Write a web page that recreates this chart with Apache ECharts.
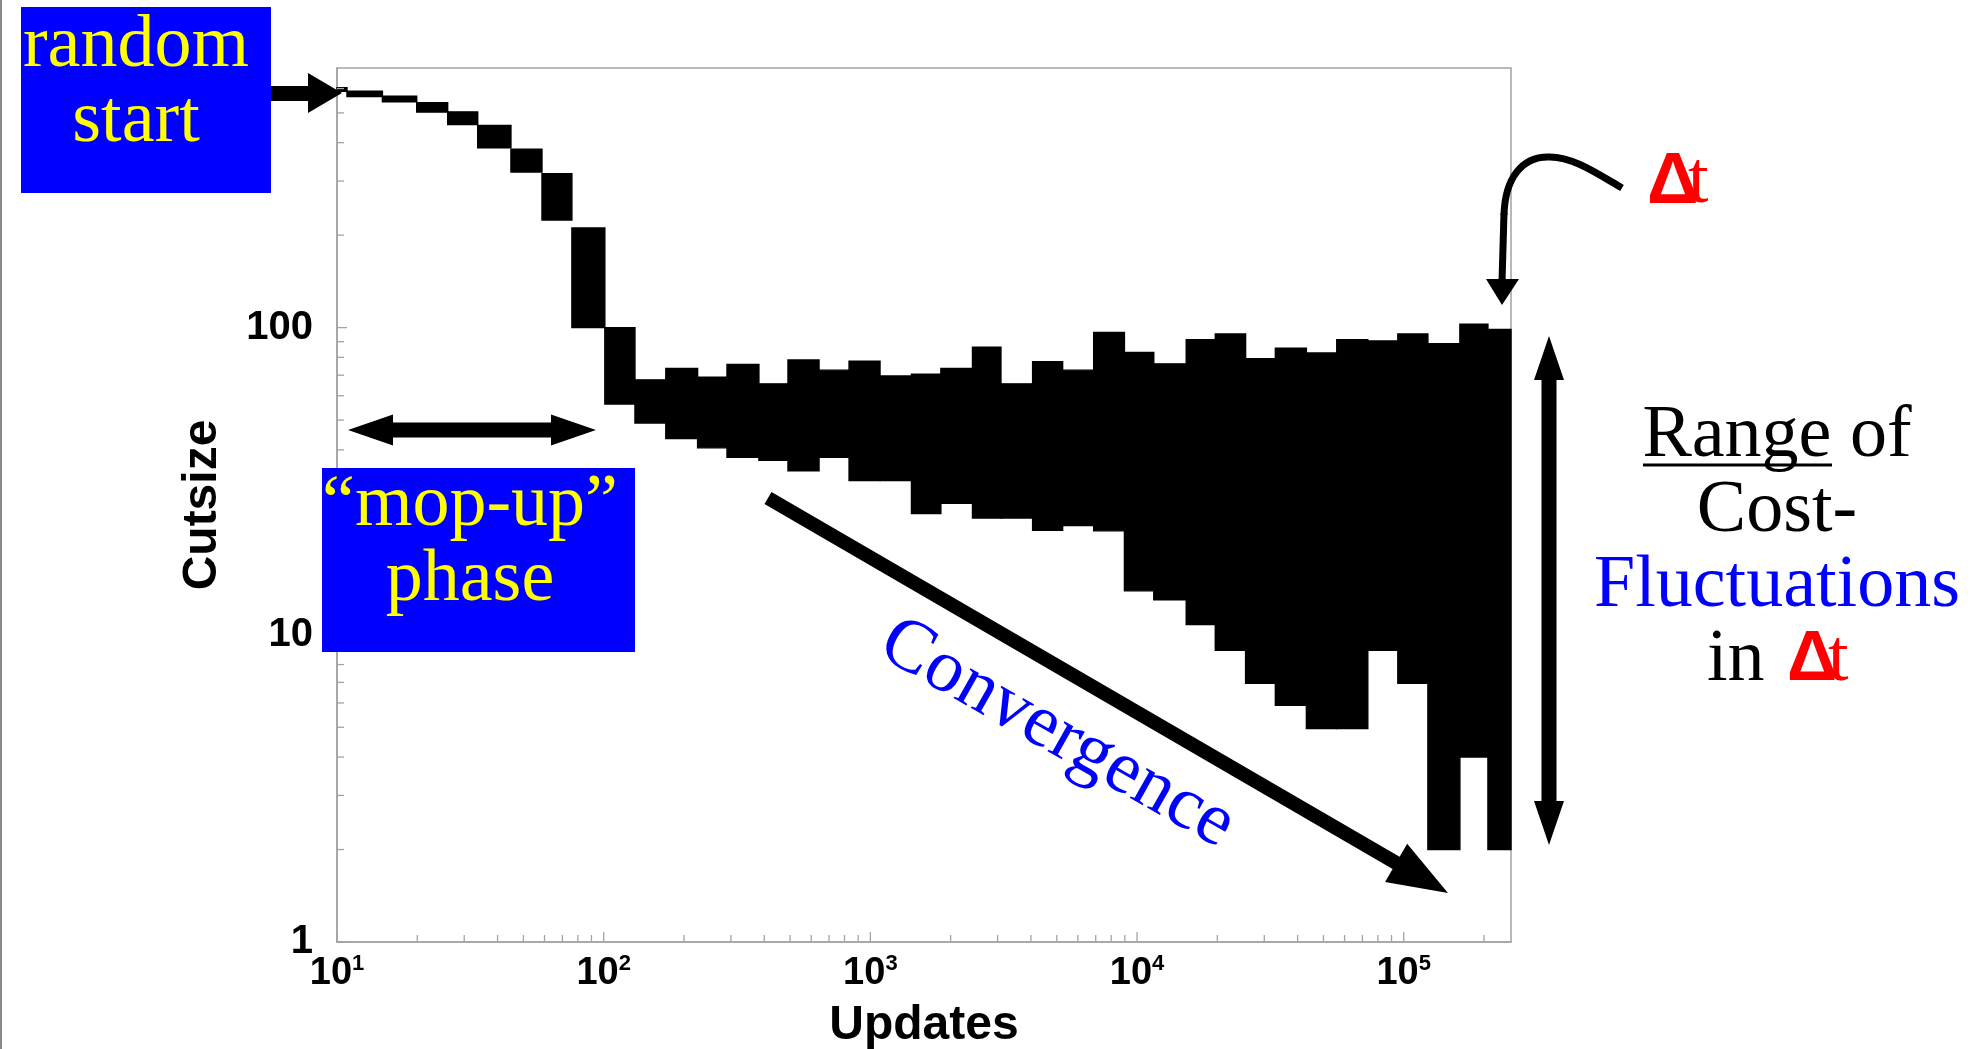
<!DOCTYPE html>
<html><head><meta charset="utf-8">
<script src="https://cdn.jsdelivr.net/npm/echarts@6/dist/echarts.min.js"></script>
<style>html,body{margin:0;padding:0;background:#fff}#c{width:1982px;height:1049px}</style>
</head><body><div id="c"></div>
<script>
// ---- data ----
const binEdges = [10, 10.9, 14.8, 19.9, 26.0, 33.7, 44.9, 58.7, 76.0, 101, 131, 171, 225, 290, 382, 491, 642, 832,
  1087, 1426, 1838, 2415, 3088, 4059, 5260, 6878, 8968, 11555, 15290, 19650, 25530, 33010, 43150, 56090, 73330, 95040,
  123200, 162400, 206900, 252500];
const cutLow = [588, 565, 543, 503, 458, 385, 321, 224, 100, 56.4, 48.9, 43.5, 40.6, 37.8, 37, 34.2, 37.8, 31.8, 31.8, 24.8,
  26.8, 24, 24, 21.9, 22.7, 21.8, 13.9, 13, 10.8, 8.9, 6.95, 5.9, 4.95, 4.95, 8.9, 6.95, 2, 4, 2];
const cutHigh = [604, 588, 567, 540, 504, 455, 381, 317, 211, 100, 67.6, 73.6, 69, 75.9, 65.6, 78.5, 72.7, 77.8, 69.6, 70.5,
  73.6, 86.3, 65.6, 77.5, 72.7, 96.5, 83, 76.2, 91.4, 95.3, 79.2, 85.7, 82.7, 91.4, 90.5, 95.3, 88.6, 102.6, 98.6];
const xMin = 10, xMax = 252500, yMin = 1, yMax = 700;
const xTickValues = [10, 100, 1000, 10000, 100000];
const yTickValues = [1, 10, 100];
const minorMultipliers = [2, 3, 4, 5, 6, 7, 8, 9];

// ---- derived ----
const barData = cutLow.map((lo, i) => [binEdges[i], binEdges[i + 1], lo, cutHigh[i]]);
const xMinor = [], yMinor = [];
xTickValues.forEach(d => minorMultipliers.forEach(m => { if (m * d < xMax) xMinor.push([m * d, yMin]); }));
yTickValues.forEach(d => minorMultipliers.forEach(m => { if (m * d < yMax) yMinor.push([xMin, m * d]); }));
const xMajor = xTickValues.map(v => [v, yMin]);
const yMajor = yTickValues.map(v => [xMin, v]);

const AX = '#a3a3a3';
const SANS = '"Liberation Sans", Arial, Helvetica, sans-serif';
const SERIF = '"Liberation Serif", "Times New Roman", serif';
const isPow10 = v => Math.abs(Math.log10(v) - Math.round(Math.log10(v))) < 1e-6;

function tickSeries(data, dir, len) {
  return {
    type: 'custom', coordinateSystem: 'cartesian2d', silent: true, z: 5, clip: false,
    data: data, encode: { x: 0, y: 1 },
    renderItem: function (params, api) {
      const p = api.coord([api.value(0), api.value(1)]);
      const shape = dir === 'x'
        ? { x1: p[0], y1: p[1], x2: p[0], y2: p[1] - len }
        : { x1: p[0], y1: p[1], x2: p[0] + len, y2: p[1] };
      return { type: 'line', shape: shape, style: { stroke: AX, lineWidth: 1.3 } };
    }
  };
}

function arrowPoly(x0, y0, x1, y1, shaft, headLen, headW, dbl) {
  const dx = x1 - x0, dy = y1 - y0, L = Math.hypot(dx, dy);
  const ux = dx / L, uy = dy / L, nx = -uy, ny = ux;
  const s = shaft / 2, h = headW / 2;
  const P = (bx, by, k) => [bx + nx * k, by + ny * k];
  const b1x = x1 - ux * headLen, b1y = y1 - uy * headLen;
  let pts;
  if (dbl) {
    const b0x = x0 + ux * headLen, b0y = y0 + uy * headLen;
    pts = [[x0, y0], P(b0x, b0y, h), P(b0x, b0y, s), P(b1x, b1y, s), P(b1x, b1y, h), [x1, y1],
      P(b1x, b1y, -h), P(b1x, b1y, -s), P(b0x, b0y, -s), P(b0x, b0y, -h)];
  } else {
    pts = [P(x0, y0, s), P(b1x, b1y, s), P(b1x, b1y, h), [x1, y1], P(b1x, b1y, -h), P(b1x, b1y, -s), P(x0, y0, -s)];
  }
  return { type: 'polygon', z: 100, shape: { points: pts }, style: { fill: '#000' } };
}

const txt = (x, y, text, font, size, color, extra, rot) => ({
  type: 'text', x: x, y: y, z: 101, rotation: rot || 0,
  style: Object.assign({ text: text, font: size + 'px ' + font, fill: color, align: 'center', verticalAlign: 'middle' }, extra || {})
});

const chart = echarts.init(document.getElementById('c'), null, { renderer: 'canvas' });
chart.setOption({
  animation: false,
  backgroundColor: '#fff',
  grid: { left: 337, right: 471, top: 68, bottom: 107, show: true, borderColor: AX, borderWidth: 1.5,
    containLabel: false, outerBoundsMode: 'none' },
  xAxis: {
    type: 'log', logBase: 10, min: xMin, max: xMax,
    axisLine: { show: true, lineStyle: { color: AX, width: 1.5 } },
    axisTick: { show: false }, minorTick: { show: false }, splitLine: { show: false },
    axisLabel: {
      color: '#000', margin: 11,
      formatter: v => isPow10(v) ? '{b|10}{s|' + Math.round(Math.log10(v)) + '}' : '',
      rich: {
        b: { fontFamily: SANS, fontWeight: 'bold', fontSize: 38, color: '#000' },
        s: { fontFamily: SANS, fontWeight: 'bold', fontSize: 22, color: '#000', verticalAlign: 'bottom', padding: [0, 0, 19, 0] }
      }
    },
    name: 'Updates', nameLocation: 'middle', nameGap: 60,
    nameTextStyle: { fontFamily: SANS, fontWeight: 'bold', fontSize: 48, color: '#000' }
  },
  yAxis: {
    type: 'log', logBase: 10, min: yMin, max: yMax,
    axisLine: { show: true, lineStyle: { color: AX, width: 1.5 } },
    axisTick: { show: false }, minorTick: { show: false }, splitLine: { show: false },
    axisLabel: {
      color: '#000', margin: 24, fontFamily: SANS, fontWeight: 'bold', fontSize: 40,
      formatter: v => isPow10(v) ? String(Math.round(v)) : ''
    },
    name: 'Cutsize', nameLocation: 'middle', nameRotate: 90, nameGap: 110,
    nameTextStyle: { fontFamily: SANS, fontWeight: 'bold', fontSize: 48, color: '#000' }
  },
  series: [
    {
      type: 'custom', coordinateSystem: 'cartesian2d', silent: true, z: 3,
      data: barData, encode: { x: [0, 1], y: [2, 3] },
      renderItem: function (params, api) {
        const p0 = api.coord([api.value(0), api.value(3)]);
        const p1 = api.coord([api.value(1), api.value(2)]);
        return { type: 'rect', shape: { x: p0[0], y: p0[1], width: p1[0] - p0[0], height: p1[1] - p0[1] },
          style: { fill: '#000', stroke: '#000', lineWidth: 1.4 } };
      }
    },
    tickSeries(xMajor, 'x', 10),
    tickSeries(xMinor, 'x', 7),
    tickSeries(yMajor, 'y', 10),
    tickSeries(yMinor, 'y', 7)
  ],
  graphic: { elements: [
    // page edge line
    { type: 'line', z: 100, shape: { x1: 1, y1: 0, x2: 1, y2: 1049 }, style: { stroke: '#8a8a8a', lineWidth: 2 } },
    // random start box
    { type: 'rect', z: 99, shape: { x: 21, y: 7, width: 250, height: 186 }, style: { fill: '#0000ff' } },
    txt(136, 84, 'random\nstart', SERIF, 74, '#ffff00', { lineHeight: 75 }),
    { type: 'polygon', z: 100, shape: { points: [[271, 86], [308, 86], [308, 73], [342, 93], [308, 113], [308, 101], [271, 101]] }, style: { fill: '#000' } },
    // mop-up
    arrowPoly(348, 430, 596, 430, 15, 45, 31, true),
    { type: 'rect', z: 99, shape: { x: 322, y: 468, width: 313, height: 184 }, style: { fill: '#0000ff' } },
    txt(470, 543, '\u201Cmop-up\u201D\nphase', SERIF, 74, '#ffff00', { lineHeight: 75 }),
    // convergence
    arrowPoly(768, 498, 1448, 893, 14, 60, 44, false),
    txt(1057, 734, 'Convergence', SERIF, 75, '#0000ff', {}, -29.5 * Math.PI / 180),
    // right double arrow
    arrowPoly(1549, 336, 1549, 845, 15, 44, 30, true),
    // range text
    txt(1777, 437, 'Range of', SERIF, 74, '#000'),
    { type: 'line', z: 101, shape: { x1: 1643, y1: 465, x2: 1832, y2: 465 }, style: { stroke: '#000', lineWidth: 3 } },
    txt(1777, 512, 'Cost-', SERIF, 74, '#000'),
    txt(1777, 587, 'Fluctuations', SERIF, 74, '#0000ff'),
    txt(1707, 661, 'in', SERIF, 74, '#000', { align: 'left' }),
    txt(1787, 661, '\u0394', SANS, 70, '#ff0000', { align: 'left', font: 'bold 70px ' + SANS }),
    txt(1828, 661, 't', SERIF, 74, '#ff0000', { align: 'left' }),
    // top delta t
    txt(1647, 183, '\u0394', SANS, 72, '#ff0000', { align: 'left', font: 'bold 72px ' + SANS }),
    txt(1688, 183, 't', SERIF, 74, '#ff0000', { align: 'left' }),
    // curvy arrow
    { type: 'bezierCurve', z: 100, shape: { x1: 1622, y1: 188, x2: 1548, y2: 157, cpx1: 1598, cpy1: 174, cpx2: 1572, cpy2: 156 },
      style: { stroke: '#000', lineWidth: 7, fill: null } },
    { type: 'bezierCurve', z: 100, shape: { x1: 1548, y1: 157, x2: 1504, y2: 215, cpx1: 1522, cpy1: 157, cpx2: 1505, cpy2: 178 },
      style: { stroke: '#000', lineWidth: 7, fill: null } },
    { type: 'line', z: 100, shape: { x1: 1504, y1: 213, x2: 1502, y2: 282 }, style: { stroke: '#000', lineWidth: 7 } },
    { type: 'polygon', z: 100, shape: { points: [[1486, 279], [1519, 279], [1502, 305]] }, style: { fill: '#000' } }
  ] }
});
</script>
</body></html>
